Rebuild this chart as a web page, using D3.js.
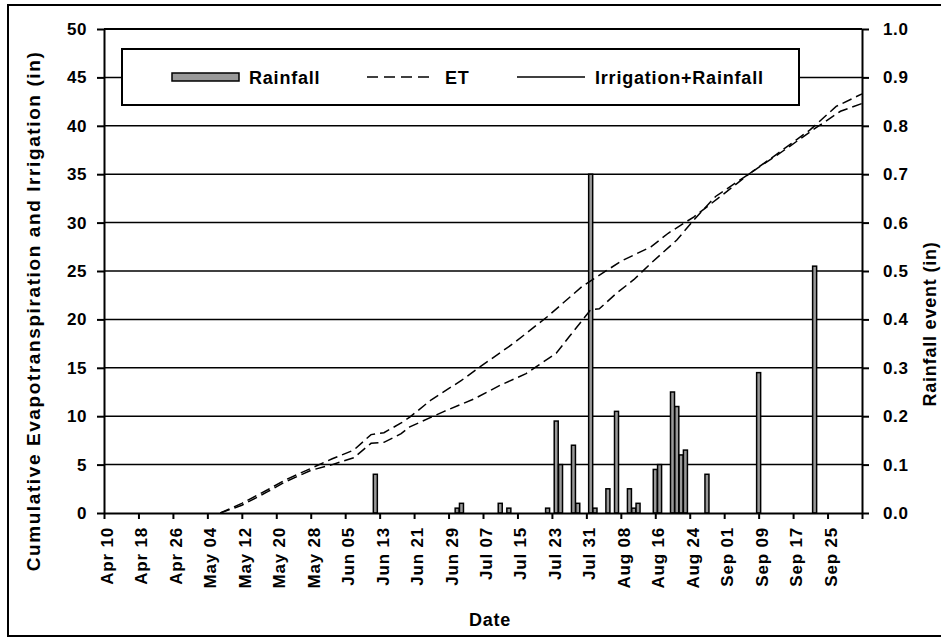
<!DOCTYPE html>
<html>
<head>
<meta charset="utf-8">
<script src="https://cdn.jsdelivr.net/npm/d3@7"></script>
<style>
    body { margin: 0; background: #fff; }
    svg { display: block; font-family: "Liberation Sans", Arial, sans-serif; font-weight: bold; }
</style>
</head>
<body>
<svg id="chart" width="941" height="642"></svg>
<script>
// axis ticks (every 8 days, last one unlabelled)
let dateTickLabels = ["Apr 10", "Apr 18", "Apr 26", "May 04", "May 12", "May 20", "May 28", "Jun 05",
    "Jun 13", "Jun 21", "Jun 29", "Jul 07", "Jul 15", "Jul 23", "Jul 31", "Aug 08", "Aug 16", "Aug 24",
    "Sep 01", "Sep 09", "Sep 17", "Sep 25"];
let dateAxisEnd = "Oct 03";

// rainfall events (in), right axis
let rainDates = ["Jun 12", "Jul 01", "Jul 02", "Jul 11", "Jul 13", "Jul 22", "Jul 24", "Jul 25", "Jul 28",
    "Jul 29", "Aug 01", "Aug 02", "Aug 05", "Aug 07", "Aug 10", "Aug 11", "Aug 12", "Aug 16", "Aug 17",
    "Aug 20", "Aug 21", "Aug 22", "Aug 23", "Aug 28", "Sep 09", "Sep 22"];
let rainValues = [0.08, 0.01, 0.02, 0.02, 0.01, 0.01, 0.19, 0.10, 0.14,
    0.02, 0.70, 0.01, 0.05, 0.21, 0.05, 0.01, 0.02, 0.09, 0.10,
    0.25, 0.22, 0.12, 0.13, 0.08, 0.29, 0.51];

// cumulative ET (in), left axis
let etDates = ["May 07", "May 12", "May 18", "May 22", "May 28", "Jun 02", "Jun 07", "Jun 11", "Jun 14",
    "Jun 18", "Jun 20", "Jun 25", "Jul 02", "Jul 06", "Jul 14", "Jul 22", "Jul 30", "Aug 08", "Aug 15",
    "Aug 19", "Aug 25", "Sep 01", "Sep 07", "Sep 13", "Sep 21", "Sep 27", "Oct 03"];
let etValues = [0, 1.0, 2.4, 3.4, 4.6, 5.6, 6.5, 8.1, 8.3,
    9.3, 9.9, 11.7, 13.7, 15.0, 17.5, 20.3, 23.4, 26.0, 27.5,
    28.9, 30.6, 33.0, 35.1, 37.0, 39.6, 42.0, 43.3];

// cumulative irrigation + rainfall (in), left axis
let irrDates = ["May 07", "May 12", "May 18", "May 22", "May 28", "Jun 02", "Jun 07", "Jun 11", "Jun 14",
    "Jun 18", "Jun 20", "Jun 28", "Jul 05", "Jul 11", "Jul 17", "Jul 20", "Jul 24", "Jul 27", "Aug 01",
    "Aug 03", "Aug 07", "Aug 11", "Aug 15", "Aug 21", "Aug 25", "Aug 30", "Sep 07", "Sep 15", "Sep 22",
    "Sep 28", "Oct 03"];
let irrValues = [0, 0.8, 2.2, 3.2, 4.4, 5.0, 5.7, 7.2, 7.3,
    8.2, 8.9, 10.5, 11.8, 13.2, 14.4, 15.3, 16.5, 18.2, 21.0,
    21.1, 22.7, 24.1, 25.8, 28.2, 30.3, 32.7, 35.1, 37.5, 39.7,
    41.5, 42.3];

let parseDate = d3.utcParse("%b %d %Y");
function toDate(s) {
    return parseDate(s + " 2009");
}

let svg = d3.select("#chart");

let margin = {left: 104, right: 862, top: 29, bottom: 513};

// outer frame (right side falls outside the picture)
svg.append("rect")
    .attr("x", 8).attr("y", 5)
    .attr("width", 940).attr("height", 631)
    .attr("fill", "none")
    .attr("stroke", "#000")
    .attr("stroke-width", 2);

let x = d3.scaleUtc()
    .domain([toDate(dateTickLabels[0]), toDate(dateAxisEnd)])
    .range([margin.left, margin.right]);

let yLeft = d3.scaleLinear().domain([0, 50]).range([margin.bottom, margin.top]);
let yRight = d3.scaleLinear().domain([0, 1]).range([margin.bottom, margin.top]);

// gridlines
svg.append("g")
    .selectAll("line")
    .data(yLeft.ticks(10).filter(d => d > 0))
    .enter().append("line")
    .attr("x1", margin.left)
    .attr("x2", margin.right)
    .attr("y1", d => yLeft(d))
    .attr("y2", d => yLeft(d))
    .attr("stroke", "#000")
    .attr("stroke-width", 1.5);

// rainfall bars
let rain = rainDates.map((d, i) => ({date: toDate(d), value: rainValues[i]}));
let barWidth = 4;
svg.append("g")
    .selectAll("rect")
    .data(rain)
    .enter().append("rect")
    .attr("x", d => x(d.date) - barWidth / 2)
    .attr("y", d => yRight(d.value))
    .attr("width", barWidth)
    .attr("height", d => yRight(0) - yRight(d.value))
    .attr("fill", "#999999")
    .attr("stroke", "#000")
    .attr("stroke-width", 1.5);

// cumulative lines
let line = d3.line()
    .x(d => x(d.date))
    .y(d => yLeft(d.value));

let et = etDates.map((d, i) => ({date: toDate(d), value: etValues[i]}));
let irr = irrDates.map((d, i) => ({date: toDate(d), value: irrValues[i]}));

[et, irr].forEach(series => {
    svg.append("path")
        .datum(series)
        .attr("d", line)
        .attr("fill", "none")
        .attr("stroke", "#000")
        .attr("stroke-width", 1.5)
        .attr("stroke-dasharray", "10,5");
});

// axes
let tickDates = dateTickLabels.map(toDate).concat([toDate(dateAxisEnd)]);
let xAxis = svg.append("g")
    .attr("transform", "translate(0," + margin.bottom + ")")
    .call(d3.axisBottom(x)
        .tickValues(tickDates)
        .tickSize(6)
        .tickSizeOuter(0)
        .tickFormat((d, i) => i < dateTickLabels.length ? dateTickLabels[i] : ""));
xAxis.selectAll("text")
    .attr("transform", "rotate(-90)")
    .attr("text-anchor", "end")
    .attr("x", -14)
    .attr("y", 0)
    .attr("dy", "0.5em")
    .attr("dx", 0)
    .attr("font-size", 17)
    .attr("letter-spacing", 0.8);

let leftAxis = svg.append("g")
    .attr("transform", "translate(" + margin.left + ",0)")
    .call(d3.axisLeft(yLeft).ticks(10).tickSize(7).tickSizeOuter(0).tickPadding(10));
leftAxis.selectAll("text").attr("font-size", 17).attr("letter-spacing", 0.6);

let rightAxis = svg.append("g")
    .attr("transform", "translate(" + margin.right + ",0)")
    .call(d3.axisRight(yRight).ticks(10).tickSize(7).tickSizeOuter(0).tickPadding(14)
        .tickFormat(d3.format(".1f")));
rightAxis.selectAll("text").attr("font-size", 17).attr("letter-spacing", 0.6);

svg.selectAll(".domain, .tick line")
    .attr("stroke", "#000")
    .attr("stroke-width", 2);
svg.selectAll(".tick text").attr("fill", "#000").attr("font-family", null);

// top border of plot
svg.append("line")
    .attr("x1", margin.left).attr("x2", margin.right)
    .attr("y1", margin.top).attr("y2", margin.top)
    .attr("stroke", "#000").attr("stroke-width", 2);

// axis titles
svg.append("text")
    .attr("transform", "translate(40,311) rotate(-90)")
    .attr("text-anchor", "middle")
    .attr("font-size", 19)
    .attr("letter-spacing", 1.6)
    .text("Cumulative Evapotranspiration and Irrigation (in)");

svg.append("text")
    .attr("transform", "translate(936,324) rotate(-90)")
    .attr("text-anchor", "middle")
    .attr("font-size", 18)
    .attr("letter-spacing", 0.8)
    .text("Rainfall event (in)");

svg.append("text")
    .attr("x", 490)
    .attr("y", 626)
    .attr("text-anchor", "middle")
    .attr("font-size", 18)
    .attr("letter-spacing", 0.8)
    .text("Date");

// legend
let legend = svg.append("g");
legend.append("rect")
    .attr("x", 122).attr("y", 49)
    .attr("width", 677).attr("height", 56)
    .attr("fill", "#fff")
    .attr("stroke", "#000")
    .attr("stroke-width", 2);
legend.append("rect")
    .attr("x", 172).attr("y", 73)
    .attr("width", 67).attr("height", 8)
    .attr("fill", "#999999")
    .attr("stroke", "#000")
    .attr("stroke-width", 1.5);
legend.append("line")
    .attr("x1", 367).attr("x2", 435)
    .attr("y1", 77).attr("y2", 77)
    .attr("stroke", "#000").attr("stroke-width", 1.5)
    .attr("stroke-dasharray", "11,6");
legend.append("line")
    .attr("x1", 517).attr("x2", 585)
    .attr("y1", 77).attr("y2", 77)
    .attr("stroke", "#000").attr("stroke-width", 1.5);
let legendLabels = [["Rainfall", 249], ["ET", 445], ["Irrigation+Rainfall", 595]];
legend.selectAll("text.lab")
    .data(legendLabels)
    .enter().append("text")
    .attr("x", d => d[1])
    .attr("y", 84)
    .attr("font-size", 18)
    .attr("letter-spacing", 0.8)
    .text(d => d[0]);
</script>
</body>
</html>
